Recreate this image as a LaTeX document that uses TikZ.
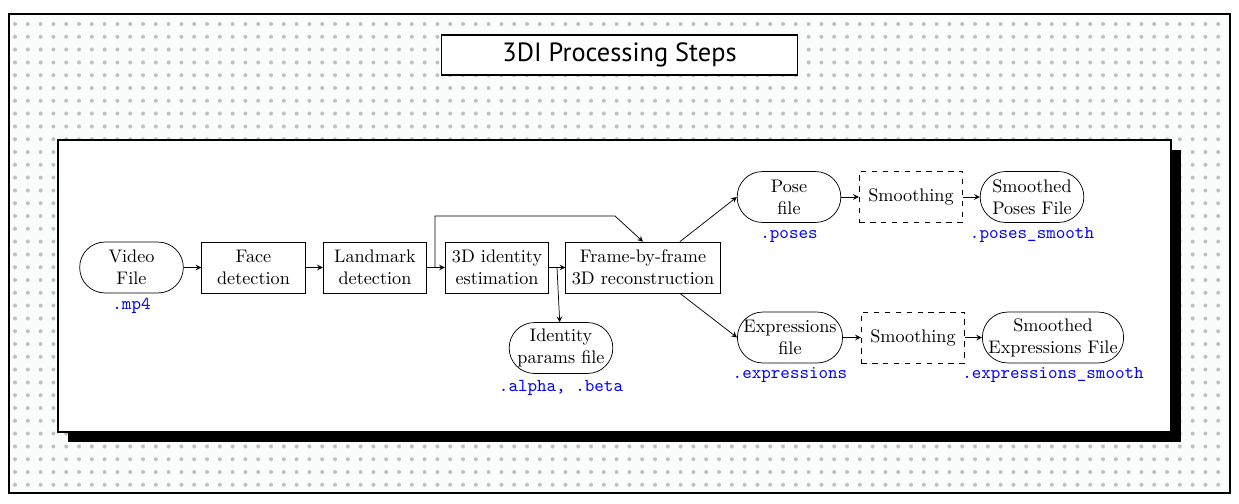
\documentclass[tikz,border=0pt]{standalone}
\usepackage{fontspec}
\newfontfamily\titlefont{PT Sans}
\definecolor{paper}{RGB}{250,252,252}
\definecolor{dotgray}{RGB}{192,192,192}
\begin{document}
\begin{tikzpicture}[x=0.55pt,y=-0.55pt]
    \tikzstyle{stepbox}=[draw,minimum width=57pt,minimum height=28pt,align=center]
    \tikzstyle{filebox}=[stepbox,rounded corners=13.9pt]
    \tikzstyle{smoothbox}=[stepbox,dashed]
    \tikzstyle{ext}=[anchor=base,text=blue,font=\ttfamily]
    \tikzstyle{arr}=[-stealth]
    \useasboundingbox (0,0) rectangle (1239,503);

    \fill[paper] (9,14) rectangle (1230,493);
    \foreach \i in {0,...,94}
      \foreach \j in {0,...,36}
        \fill[dotgray] (15+12.8*\i,24+12.8*\j) circle (1.1pt);
    \draw[line width=1.1pt] (9,14) rectangle (1230,493);

    \node[draw,fill=white,line width=0.8pt,minimum width=196pt,minimum height=22pt,font=\titlefont\fontsize{14.5}{17}\selectfont] (title) at (619.5,55) {3DI Processing Steps};

    \fill[black] (68,150) rectangle (1181,442);
    \draw[fill=white,line width=0.8pt] (58,140) rectangle (1171,432);

    \node[filebox] (video) at (131.5,267.5) {Video\\File};
      \node[ext] (videoext) at (131.5,309) {.mp4};
    \node[stepbox] (face) at (253.5,267.5) {Face\\detection};
    \node[stepbox] (landmark) at (375,267.5) {Landmark\\detection};
    \node[stepbox] (ident) at (497,267.5) {3D identity\\estimation};
    \node[stepbox] (frame) at (643,267.5) {Frame-by-frame\\3D reconstruction};
    \node[filebox] (params) at (561,348) {Identity\\params file};
      \node[ext] (paramsext) at (561,391) {.alpha, .beta};

    \node[filebox] (pose) at (789,197) {Pose\\file};
      \node[ext] (poseext) at (789,238) {.poses};
    \node[smoothbox] (posesmooth) at (911,197) {Smoothing};
    \node[filebox] (posefinal) at (1032,197) {Smoothed\\Poses File};
      \node[ext] (posefinalext) at (1032,238) {.poses\_smooth};

    \node[filebox] (expr) at (790,337.5) {Expressions\\file};
      \node[ext] (exprext) at (790,378) {.expressions};
    \node[smoothbox] (exprsmooth) at (913,337.5) {Smoothing};
    \node[filebox] (exprfinal) at (1053,337.5) {Smoothed\\Expressions File};
      \node[ext] (exprfinalext) at (1053,378) {.expressions\_smooth};

    \coordinate (fork) at (435,267.5);
    \coordinate (bend) at (615,216);
    \coordinate (fork2) at (557,267.5);

    \draw[arr] (video) -- (face);
    \draw[arr] (face) -- (landmark);
    \draw[arr] (landmark) -- (ident);
    \draw[arr] (ident) -- (frame);
    \draw[arr] (fork) |- (bend) -- (frame.north);
    \draw[arr] (fork2) -- (params);
    \draw[arr] (frame.35) -- (pose.west);
    \draw[arr] (frame.-35) -- (expr.west);
    \draw[arr] (pose) -- (posesmooth);
    \draw[arr] (posesmooth) -- (posefinal);
    \draw[arr] (expr) -- (exprsmooth);
    \draw[arr] (exprsmooth) -- (exprfinal);
\end{tikzpicture}
\end{document}
